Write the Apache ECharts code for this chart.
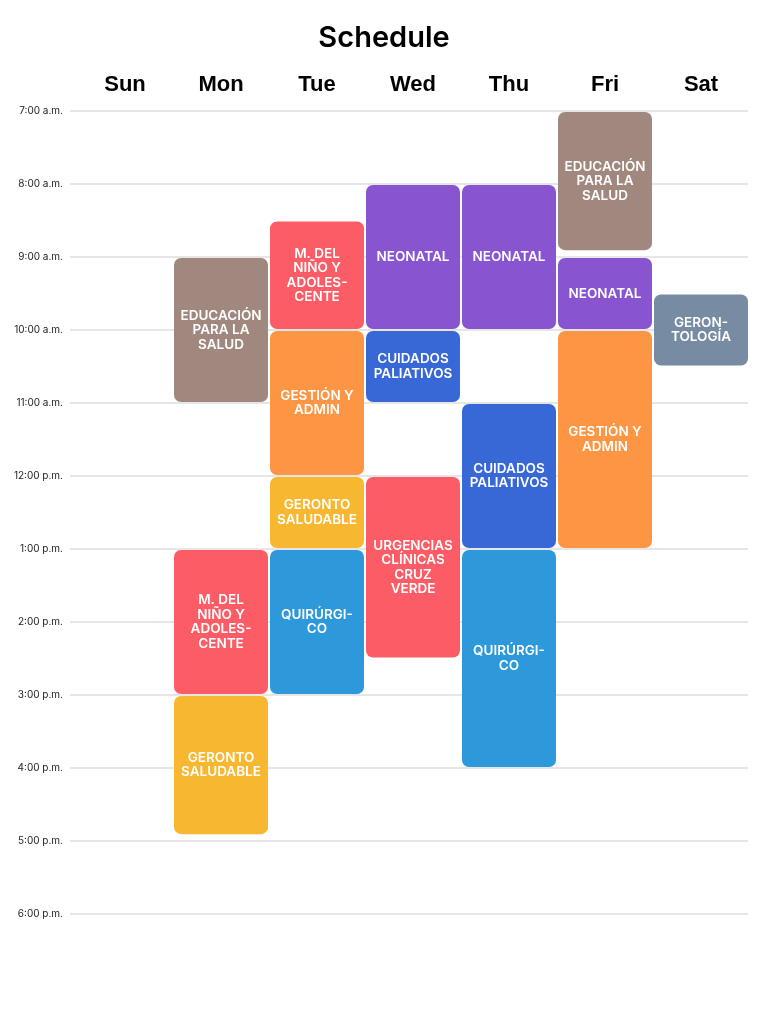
<!DOCTYPE html>
<html>
<head>
<meta charset="utf-8">
<title>Schedule</title>
<script src="https://cdn.jsdelivr.net/npm/echarts@6/dist/echarts.min.js"></script>
<style>
  html, body { margin: 0; padding: 0; background: #fff; }
  #chart { width: 768px; height: 1024px; }
</style>
</head>
<body>
<div id="chart"></div>
<script>
const days = ["Sun", "Mon", "Tue", "Wed", "Thu", "Fri", "Sat"];

const hourLabels = [
  "7:00 a.m.", "8:00 a.m.", "9:00 a.m.", "10:00 a.m.", "11:00 a.m.",
  "12:00 p.m.", "1:00 p.m.", "2:00 p.m.", "3:00 p.m.", "4:00 p.m.",
  "5:00 p.m.", "6:00 p.m.",
];

// one entry per block: day index, start/end in hours, label, course key
const eventDays = [1, 1, 1, 2, 2, 2, 2, 3, 3, 3, 4, 4, 4, 5, 5, 5, 6];
const eventStarts = [9, 13, 15, 8.5, 10, 12, 13, 8, 10, 12, 8, 11, 13, 7, 9, 10, 9.5];
const eventEnds = [11, 15, 16.92, 10, 12, 13, 15, 10, 11, 14.5, 10, 13, 16, 8.92, 10, 13, 10.5];
const eventLabels = [
  "EDUCACIÓN\nPARA LA\nSALUD",
  "M. DEL\nNIÑO Y\nADOLES-\nCENTE",
  "GERONTO\nSALUDABLE",
  "M. DEL\nNIÑO Y\nADOLES-\nCENTE",
  "GESTIÓN Y\nADMIN",
  "GERONTO\nSALUDABLE",
  "QUIRÚRGI-\nCO",
  "NEONATAL",
  "CUIDADOS\nPALIATIVOS",
  "URGENCIAS\nCLÍNICAS\nCRUZ\nVERDE",
  "NEONATAL",
  "CUIDADOS\nPALIATIVOS",
  "QUIRÚRGI-\nCO",
  "EDUCACIÓN\nPARA LA\nSALUD",
  "NEONATAL",
  "GESTIÓN Y\nADMIN",
  "GERON-\nTOLOGÍA",
];
const eventCourses = [
  "educacion", "nino", "geronto", "nino", "gestion", "geronto", "quirurgico",
  "neonatal", "paliativos", "urgencias", "neonatal", "paliativos", "quirurgico",
  "educacion", "neonatal", "gestion", "gerontologia",
];

const courseColors = {
  educacion: "#a1887f",
  nino: "#fc5c65",
  urgencias: "#fc5c65",
  geronto: "#f7b731",
  gestion: "#fd9644",
  quirurgico: "#2d98da",
  neonatal: "#8854d0",
  paliativos: "#3867d6",
  gerontologia: "#778ca3",
};

const seriesData = eventDays.map((d, i) => ({
  value: [d, eventStarts[i], eventEnds[i]],
  name: eventLabels[i],
  course: eventCourses[i],
}));

function renderBlock(params, api) {
  const item = seriesData[params.dataIndex];
  const top = api.coord([api.value(0), api.value(1)]);
  const bottom = api.coord([api.value(0), api.value(2)]);
  const colWidth = api.size([1, 0])[0];
  const x = top[0] - colWidth / 2 + 1;
  const y = top[1] + 1;
  const w = colWidth - 2;
  const h = bottom[1] - top[1] - 2;
  return {
    type: "group",
    children: [
      {
        type: "rect",
        shape: { x, y, width: w, height: h, r: 7 },
        style: { fill: courseColors[item.course] },
      },
      {
        type: "text",
        x: x + w / 2,
        y: y + h / 2,
        style: {
          text: item.name,
          fill: "#fff",
          align: "center",
          verticalAlign: "middle",
          font: "600 13.5px Inter, 'Noto Sans', sans-serif",
          lineHeight: 14.5,
        },
      },
    ],
  };
}

const chart = echarts.init(document.getElementById("chart"));
chart.setOption({
  animation: false,
  title: {
    text: "Schedule",
    left: "center",
    top: 19,
    textStyle: {
      fontFamily: "Inter",
      fontSize: 29,
      fontWeight: 600,
      color: "#000",
    },
  },
  grid: [
    { left: 70, right: 20, top: 111, height: 803 },
    { left: 77, right: 19, top: 111, height: 803 },
  ],
  xAxis: [
    { gridIndex: 0, type: "value", show: false, min: 0, max: 1 },
    {
      gridIndex: 1,
      type: "category",
      position: "top",
      data: days,
      axisLine: { show: false },
      axisTick: { show: false },
      splitLine: { show: false },
      axisLabel: {
        margin: 15,
        color: "#000",
        fontFamily: "Liberation Sans",
        fontWeight: "bold",
        fontSize: 22,
      },
    },
  ],
  yAxis: [
    {
      gridIndex: 0,
      type: "value",
      inverse: true,
      min: 7,
      max: 18,
      interval: 1,
      axisLine: { show: false },
      axisTick: { show: false },
      axisLabel: {
        margin: 7,
        color: "#222",
        fontFamily: "Inter",
        fontSize: 10,
        formatter: (v) => hourLabels[v - 7] || "",
      },
      splitLine: { lineStyle: { color: "#dedede", width: 1.5 } },
    },
    {
      gridIndex: 1,
      type: "value",
      inverse: true,
      min: 7,
      max: 18,
      show: false,
    },
  ],
  series: [
    {
      type: "custom",
      xAxisIndex: 1,
      yAxisIndex: 1,
      renderItem: renderBlock,
      encode: { x: 0, y: [1, 2] },
      data: seriesData,
    },
  ],
});
</script>
</body>
</html>
